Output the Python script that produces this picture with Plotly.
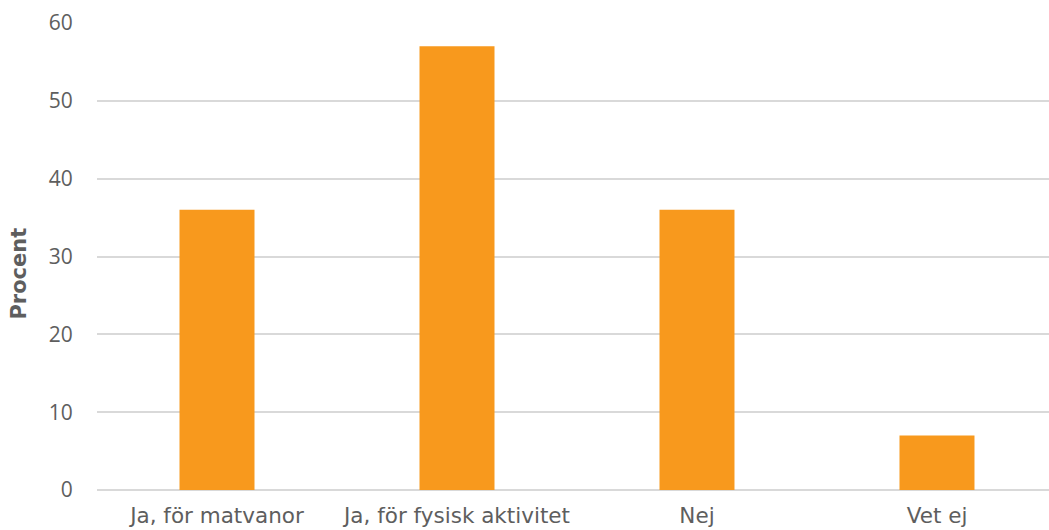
import plotly.graph_objects as go

categories = ["Ja, för matvanor", "Ja, för fysisk aktivitet", "Nej", "Vet ej"]
procent = [36, 57, 36, 7]
y_ticks = [0, 10, 20, 30, 40, 50, 60]

bar_color = "#F8991D"
text_color = "#5E5E5E"
grid_color = "#D9D9D9"
label_font = "DejaVu Sans, Verdana, sans-serif"
number_font = "Open Sans, Roboto, sans-serif"

fig = go.Figure(
    go.Bar(
        x=list(range(len(categories))),
        y=procent,
        width=0.3125,
        marker=dict(color=bar_color, line=dict(width=0)),
        hoverinfo="skip",
    )
)

fig.update_layout(
    width=1049,
    height=530,
    margin=dict(l=97, r=0, t=23, b=40),
    paper_bgcolor="white",
    plot_bgcolor="white",
    showlegend=False,
    font=dict(family=label_font, size=15, color=text_color),
)

fig.update_xaxes(
    tickmode="array",
    tickvals=list(range(len(categories))),
    ticktext=categories,
    range=[-0.5, 3.4667],
    showgrid=False,
    showline=False,
    zeroline=False,
    ticks="outside",
    ticklen=6,
    tickcolor="white",
    tickfont=dict(family=label_font, size=21.5, color=text_color),
)

fig.update_yaxes(
    range=[0, 60],
    tickmode="array",
    tickvals=y_ticks,
    showgrid=True,
    gridcolor=grid_color,
    gridwidth=1.5,
    zeroline=True,
    zerolinecolor=grid_color,
    zerolinewidth=1.5,
    showline=False,
    ticks="outside",
    ticklen=19,
    tickcolor="white",
    tickfont=dict(family=number_font, size=21, color=text_color),
)

# Axis title placed as a rotated annotation, sitting slightly below the plot's middle
fig.add_annotation(
    text="<b>Procent</b>",
    xref="paper",
    yref="y",
    x=0,
    xshift=-78,
    y=27.8,
    xanchor="center",
    yanchor="middle",
    textangle=-90,
    showarrow=False,
    font=dict(family=label_font, size=21, color=text_color),
)

fig.write_html("out.html")
